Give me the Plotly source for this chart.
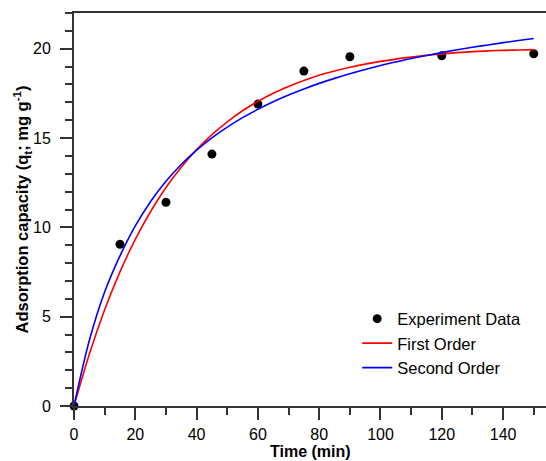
import plotly.graph_objects as go

# Experimental data
time_exp = [0, 15, 30, 45, 60, 75, 90, 120, 150]
q_exp = [0, 9.05, 11.4, 14.1, 16.9, 18.75, 19.55, 19.6, 19.72]

# Fitted curves
time_fit = [0, 5, 10, 15, 20, 25, 30, 35, 40, 45, 50, 55, 60, 65, 70, 75,
            80, 85, 90, 95, 100, 105, 110, 115, 120, 125, 130, 135, 140, 145, 150]
q_first = [0, 2.90, 5.39, 7.51, 9.33, 10.89, 12.23, 13.37, 14.35, 15.19, 15.91,
           16.53, 17.05, 17.51, 17.89, 18.22, 18.51, 18.75, 18.96, 19.14, 19.29,
           19.42, 19.53, 19.63, 19.71, 19.78, 19.84, 19.88, 19.91, 19.93, 19.95]
q_second = [0, 3.67, 6.38, 8.40, 10.08, 11.45, 12.58, 13.52, 14.32, 15.01, 15.61,
            16.14, 16.61, 17.03, 17.41, 17.75, 18.06, 18.34, 18.60, 18.84, 19.06,
            19.26, 19.45, 19.62, 19.78, 19.94, 20.08, 20.21, 20.34, 20.46, 20.57]

x_title = "<b>Time (min)</b>"
y_title = "<b>Adsorption capacity (q<sub>t</sub>; mg g<sup>-1</sup>)</b>"

font_family = "Liberation Sans, Arial, sans-serif"
fs = 16.5

fig = go.Figure()
fig.add_trace(go.Scatter(x=time_exp, y=q_exp, mode="markers", name="Experiment Data",
                         marker=dict(color="black", size=9), cliponaxis=False))
fig.add_trace(go.Scatter(x=time_fit, y=q_first, mode="lines", name="First Order",
                         line=dict(color="#ff0000", width=1.6, shape="spline")))
fig.add_trace(go.Scatter(x=time_fit, y=q_second, mode="lines", name="Second Order",
                         line=dict(color="#0000ff", width=1.6, shape="spline")))

axis_common = dict(
    ticks="outside", ticklen=12, tickwidth=1.5, tickcolor="#333",
    showline=True, linecolor="#333", linewidth=2,
    showgrid=False, zeroline=False, automargin=False,
    tickfont=dict(size=16),
)

fig.update_layout(
    width=546, height=461,
    margin=dict(l=74, r=0, t=13, b=55),
    paper_bgcolor="white", plot_bgcolor="white",
    font=dict(family=font_family, size=fs, color="black"),
    showlegend=True,
    legend=dict(x=0.600, y=0.266, xanchor="left", yanchor="top",
                bgcolor="rgba(0,0,0,0)", font=dict(size=fs),
                tracegroupgap=0),
    xaxis=dict(
        range=[0, 154], tickmode="linear", tick0=0, dtick=20, mirror=True,
        ticklabelstandoff=1,
        minor=dict(ticks="outside", ticklen=7, dtick=10, tickwidth=1.5, tickcolor="#333", showgrid=False),
        **axis_common,
    ),
    yaxis=dict(
        range=[0, 22], tickmode="linear", tick0=0, dtick=5,
        ticklabelstandoff=6,
        minor=dict(ticks="outside", ticklen=7, dtick=1, tickwidth=1.5, tickcolor="#333", showgrid=False),
        **axis_common,
    ),
    annotations=[
        dict(text=x_title, xref="paper", yref="paper", x=0.5, y=0,
             xanchor="center", yanchor="top", yshift=-36, showarrow=False,
             borderpad=0, font=dict(size=16)),
        dict(text=y_title, xref="paper", yref="paper", x=0, y=0.5,
             xanchor="center", yanchor="middle", xshift=-52, textangle=-90,
             showarrow=False, font=dict(size=fs)),
    ],
)

fig.write_html(
    "out.html",
    config={"displayModeBar": False},
    post_script="document.body.style.margin='0px';document.body.style.padding='0px';",
)
